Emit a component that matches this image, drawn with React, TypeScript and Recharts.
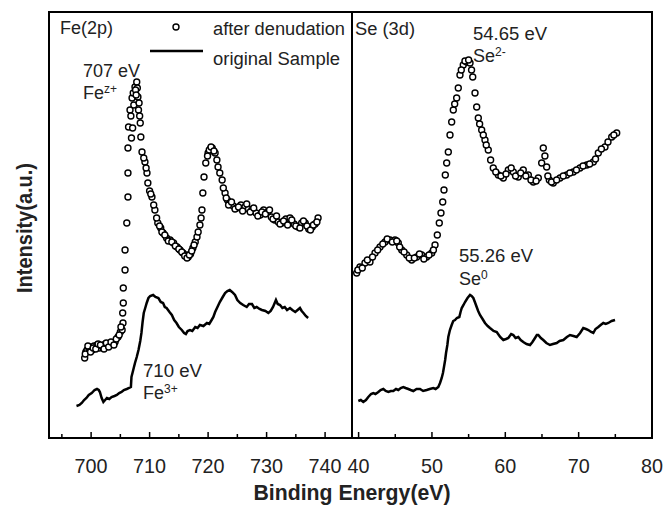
import React from "react";
import { ComposedChart, Line, Scatter, XAxis, YAxis } from "recharts";

// Fe(2p) region, binding energy (eV) and intensity (a.u.)
const feAfterEnergy = [
  698.9, 699.1, 699.3, 699.6, 699.8, 700.2, 700.5, 701.0, 701.4, 701.8,
  702.0, 702.4, 702.8, 703.2, 703.6, 704.1, 704.6, 705.0, 705.3, 705.45,
  705.4, 705.5, 705.5, 705.8, 705.8, 706.1, 706.3, 706.3, 706.3, 706.4,
  706.65, 707.0, 707.2, 707.5, 707.8, 707.9, 708.0, 708.1, 708.4, 708.5,
  708.7, 709.2, 709.55, 709.7, 710.0, 710.4, 710.9, 711.4, 711.9, 712.3,
  712.9, 713.5, 714.1, 714.7, 715.2, 715.7, 716.2, 716.6, 717.0, 717.4,
  717.8, 718.1, 718.6, 718.95, 719.1, 719.3, 719.6, 720.0, 720.4, 720.7,
  721.2, 721.7, 722.4, 722.9, 723.3, 723.7, 724.3, 724.9, 725.6, 726.3,
  726.9, 727.5, 728.2, 728.9, 729.5, 730.2, 730.8, 731.4, 732.0, 732.6,
  733.3, 734.0, 734.7, 735.4, 736.0, 736.6, 737.2, 737.8, 738.3, 738.8,
  699.0, 699.45, 699.9, 700.35, 700.8, 701.2, 701.6, 702.2, 702.6, 703.0,
  703.4, 703.9, 704.3, 704.8, 705.1, 706.8, 706.9, 707.1, 707.3, 707.6,
  707.7, 708.2, 708.3, 709.0, 709.4, 710.2, 710.7, 711.2, 711.7, 712.1,
  712.6, 713.2, 713.8, 714.4, 715.0, 715.5, 716.0, 716.4, 716.8, 717.2,
  717.6, 718.3, 718.8, 719.9, 720.2, 720.5, 721.0, 721.5, 722.0, 722.6,
  723.1, 723.5, 724.0, 724.6, 725.2, 725.9, 726.6, 727.2, 727.8, 728.5,
  729.2, 729.8, 730.5, 731.1, 731.7, 732.3, 732.9, 733.6, 734.3, 735.0,
  735.7, 736.3, 736.9, 737.5, 738.0, 738.6,
];
const feAfterIntensity = [
  80, 86, 88, 90, 91, 88, 92, 93, 90, 92,
  91, 94, 92, 93, 95, 96, 101, 106, 108, 115,
  125, 135, 150, 168, 188, 215, 241, 265, 290, 311,
  328, 340, 345, 351, 356, 350, 341, 328, 315, 301,
  286, 276, 265, 255, 247, 241, 228, 215, 210, 205,
  200, 198, 195, 191, 188, 185, 183, 181, 184, 190,
  196, 201, 213, 228, 245, 261, 275, 285, 289, 290,
  285, 271, 258, 245, 238, 235, 232, 230, 233, 231,
  229, 228, 225, 223, 228, 226, 221, 218, 216, 215,
  219, 220, 214, 211, 215, 215, 209, 211, 214, 220,
  84, 92, 86, 90, 89, 94, 93, 89, 95, 91,
  96, 93, 99, 103, 111, 322, 300, 310, 333, 348,
  343, 335, 322, 280, 270, 244, 233, 220, 212, 206,
  203, 197, 196, 192, 189, 186, 182, 180, 183, 187,
  193, 206, 220, 282, 288, 291, 287, 278, 265, 250,
  240, 233, 236, 229, 231, 227, 234, 226, 230, 222,
  226, 224, 228, 219, 222, 214, 217, 213, 218, 212,
  210, 217, 212, 208, 213, 216,
];
const feOrigEnergy = [
  697.5, 698.0, 698.4, 698.8, 699.2, 699.6, 700.1, 700.6, 701.0, 701.3,
  701.5, 701.8, 702.1, 702.4, 702.7, 703.1, 703.5, 704.0, 704.4, 704.8,
  705.2, 705.6, 706.1, 706.5, 706.8, 706.9, 707.2, 707.5, 707.8, 708.1,
  708.4, 708.6, 708.8, 709.0, 709.3, 709.5, 709.8, 710.1, 710.6, 711.0,
  711.5, 711.9, 712.3, 712.6, 712.9, 713.4, 713.8, 714.2, 714.6, 715.0,
  715.5, 715.9, 716.2, 716.5, 716.9, 717.3, 717.8, 718.2, 718.6, 719.2,
  719.8, 720.2, 720.6, 720.9, 721.2, 721.6, 722.0, 722.5, 722.9, 723.3,
  723.7, 724.1, 724.6, 725.0, 725.5, 726.0, 726.6, 727.0, 727.5, 727.9,
  728.3, 728.8, 729.2, 729.8, 730.3, 730.7, 731.1, 731.6, 731.9, 732.3,
  732.7, 733.1, 733.5, 734.0, 734.4, 734.9, 735.3, 735.7, 736.0, 736.3,
  736.7, 737.1,
];
const feOrigIntensity = [
  32, 33, 35, 38, 40, 43, 45, 48, 49, 48,
  46, 40, 36, 38, 40, 39, 41, 42, 43, 45,
  46, 48, 49, 50, 51, 61, 68, 75, 81, 88,
  97, 105, 116, 125, 131, 135, 140, 142, 143, 141,
  140, 136, 135, 131, 130, 126, 123, 118, 115, 111,
  108, 105, 104, 107, 108, 107, 111, 110, 113, 112,
  115, 114, 118, 121, 126, 131, 136, 141, 145, 147,
  148, 146, 143, 138, 135, 133, 131, 134, 134, 130,
  131, 129, 128, 127, 125, 127, 131, 138, 134, 133,
  130, 131, 128, 130, 128, 126, 128, 130, 127, 125,
  122, 120,
];

// Se(3d) region
const seAfterEnergy = [
  39.74, 40.19, 40.87, 41.55, 42.24, 42.92, 43.6, 44.28, 44.96,
  45.41, 45.88, 46.56, 47.24, 47.92, 48.6, 49.28, 49.97, 50.42, 50.73,
  51.0, 51.23, 51.47, 51.64, 51.82, 52.01, 52.23, 52.46, 52.69, 52.91,
  53.37, 53.59, 53.82, 54.27, 54.74, 55.19, 55.56, 55.87, 56.1, 56.32,
  56.78, 57.23, 57.68, 58.36, 59.05, 59.73, 60.41, 61.09, 61.77, 62.45,
  63.14, 63.82, 64.5, 64.96, 65.18, 65.64, 66.0, 66.54, 67.46, 68.37,
  69.27, 70.18, 71.1, 72.0, 72.68, 73.59, 74.51, 75.19,
  39.9, 40.5, 41.2, 41.9, 42.6, 43.3, 43.9, 44.6, 45.2, 45.6,
  46.2, 46.9, 47.6, 48.3, 48.9, 49.6, 50.2, 53.1, 54.0, 54.5,
  55.0, 55.4, 56.5, 57.0, 57.4, 58.0, 58.7, 59.4, 60.1, 60.8,
  61.4, 62.1, 62.8, 63.5, 64.2, 65.4, 65.8, 66.3, 67.0, 67.9,
  68.8, 69.7, 70.6, 71.5, 72.3, 73.1, 74.0, 74.8,
];
const seAfterIntensity = [
  165, 171, 175, 176, 185, 191, 196, 198, 198,
  195, 188, 183, 178, 181, 183, 181, 185, 193, 203,
  215, 225, 236, 248, 263, 275, 286, 303, 316, 328,
  340, 350, 363, 373, 376, 375, 361, 345, 331, 320,
  308, 298, 288, 270, 263, 260, 268, 266, 261, 268,
  263, 256, 260, 275, 290, 271, 258, 255, 260, 263,
  266, 270, 273, 276, 285, 291, 301, 305,
  168, 170, 178, 181, 188, 194, 199, 196, 197, 191,
  186, 180, 180, 184, 179, 183, 188, 334, 368, 377,
  378, 368, 314, 303, 293, 278, 266, 262, 264, 270,
  262, 265, 262, 258, 257, 282, 262, 256, 258, 262,
  265, 268, 272, 274, 279, 289, 296, 303,
];
const seOrigEnergy = [
  39.96, 40.3, 40.64, 41.0, 41.32, 41.7, 42.0, 42.3, 42.69, 43.0,
  43.37, 43.7, 44.05, 44.4, 44.73, 45.1, 45.41, 45.75, 46.09, 46.4,
  46.78, 47.1, 47.46, 47.9, 48.37, 48.8, 49.28, 49.7, 50.18, 50.5,
  50.87, 51.1, 51.33, 51.5, 51.64, 51.8, 51.92, 52.1, 52.23, 52.45,
  52.69, 52.9, 53.14, 53.4, 53.73, 53.9, 54.06, 54.3, 54.51, 54.85,
  55.19, 55.4, 55.64, 55.9, 56.1, 56.3, 56.55, 56.9, 57.23, 57.6,
  57.91, 58.4, 58.83, 59.3, 59.73, 60.1, 60.41, 60.8, 61.09, 61.4,
  61.77, 62.1, 62.45, 62.9, 63.37, 63.7, 64.05, 64.3, 64.5, 64.85,
  65.18, 65.6, 66.09, 66.5, 67.01, 67.4, 67.91, 68.4, 68.82, 69.3,
  69.73, 70.2, 70.63, 71.0, 71.32, 71.7, 72.0, 72.3, 72.68, 73.0,
  73.36, 73.7, 74.04, 74.5, 74.96,
];
const seOrigIntensity = [
  37, 38, 36, 38, 41, 44, 45, 44, 46, 48,
  49, 47, 46, 47, 47, 49, 48, 50, 51, 50,
  49, 48, 47, 49, 49, 47, 48, 49, 50, 49,
  51, 55, 60, 65, 71, 78, 85, 93, 101, 108,
  113, 117, 118, 120, 121, 126, 130, 133, 136, 140,
  143, 142, 140, 135, 131, 127, 123, 119, 115, 112,
  110, 107, 106, 101, 98, 99, 100, 104, 103, 100,
  101, 98, 96, 94, 93, 96, 100, 103, 103, 100,
  98, 95, 93, 94, 95, 97, 98, 101, 103, 102,
  101, 105, 110, 109, 108, 106, 105, 109, 111, 113,
  115, 114, 115, 117, 118,
];

const feTicks = [695, 700, 705, 710, 715, 720, 725, 730, 735, 740];
const seTicks = [40, 45, 50, 55, 60, 65, 70, 75, 80];

const zip = (e: number[], v: number[]) => e.map((x, i) => ({ e: x, v: v[i] }));

const FONT = "'Liberation Sans', Arial, sans-serif";
const INK = "#222";

function EnergyTick(props: any) {
  const { x, y, payload } = props;
  const val = payload.value;
  const major = val % 10 === 0;
  const label = String(val);
  return (
    <g>
      <line x1={x} x2={x} y1={y} y2={y - (major ? 6 : 4)} stroke="#000" strokeWidth={1.5} />
      {major && (
        <text
          x={x}
          y={y + 35}
          textAnchor="middle"
          fontSize={21}
          fontFamily={FONT}
          fill={INK}
          textLength={label.length * 11}
          lengthAdjust="spacingAndGlyphs"
        >
          {label}
        </text>
      )}
    </g>
  );
}

const openCircle = (p: any) => (
  <circle cx={p.cx} cy={p.cy} r={3} fill="#fff" stroke="#000" strokeWidth={1.4} />
);

function Panel(props: {
  left: number;
  width: number;
  margin: { top: number; right: number; bottom: number; left: number };
  domain: [number, number];
  ticks: number[];
  after: { e: number; v: number }[];
  orig: { e: number; v: number }[];
}) {
  return (
    <div style={{ position: "absolute", left: props.left, top: 0 }}>
      <ComposedChart width={props.width} height={505} margin={props.margin}>
        <XAxis
          dataKey="e"
          type="number"
          domain={props.domain}
          ticks={props.ticks}
          interval={0}
          height={67}
          axisLine={false}
          tickLine={false}
          tickSize={0}
          tickMargin={0}
          tick={(t: any) => <EnergyTick {...t} />}
          allowDataOverflow
        />
        <YAxis type="number" dataKey="v" domain={[0, 426]} hide />
        <Line
          data={props.orig}
          dataKey="v"
          type="linear"
          stroke="#000"
          strokeWidth={2.5}
          dot={false}
          isAnimationActive={false}
        />
        <Scatter data={props.after} dataKey="v" shape={openCircle} isAnimationActive={false} />
      </ComposedChart>
    </div>
  );
}

export default function App() {
  return (
    <div
      style={{
        position: "absolute",
        left: 0,
        top: 0,
        width: 665,
        height: 505,
        background: "#fff",
        fontFamily: FONT,
      }}
    >
      <Panel
        left={0}
        width={352}
        margin={{ top: 12, right: 0, bottom: 0, left: 49 }}
        domain={[692.8, 744.6]}
        ticks={feTicks}
        after={zip(feAfterEnergy, feAfterIntensity)}
        orig={zip(feOrigEnergy, feOrigIntensity)}
      />
      <Panel
        left={330}
        width={335}
        margin={{ top: 12, right: 13, bottom: 0, left: 22 }}
        domain={[39.1, 80]}
        ticks={seTicks}
        after={zip(seAfterEnergy, seAfterIntensity)}
        orig={zip(seOrigEnergy, seOrigIntensity)}
      />
      <svg
        width={665}
        height={505}
        style={{ position: "absolute", left: 0, top: 0, pointerEvents: "none" }}
        fontFamily={FONT}
        fill={INK}
      >
        <rect x={49} y={12} width={603} height={426} fill="none" stroke="#000" strokeWidth={2} />
        <line x1={352} x2={352} y1={12} y2={438} stroke="#000" strokeWidth={2} />

        <text x={60} y={34} fontSize={18} textLength={53} lengthAdjust="spacingAndGlyphs">Fe(2p)</text>
        <text x={355} y={35} fontSize={18} textLength={60} lengthAdjust="spacingAndGlyphs">Se (3d)</text>

        <circle cx={176} cy={27} r={3} fill="#fff" stroke="#000" strokeWidth={1.4} />
        <text x={213} y={35} fontSize={18} textLength={132} lengthAdjust="spacingAndGlyphs">after denudation</text>
        <line x1={150} x2={203} y1={51} y2={51} stroke="#000" strokeWidth={2.5} />
        <text x={213} y={65} fontSize={18} textLength={127} lengthAdjust="spacingAndGlyphs">original Sample</text>

        <text x={83} y={77} fontSize={18} textLength={57} lengthAdjust="spacingAndGlyphs">707 eV</text>
        <text x={83} y={99} fontSize={18}>
          Fe<tspan dy={-6} fontSize={12}>z+</tspan>
        </text>

        <text x={473} y={40} fontSize={18} textLength={74} lengthAdjust="spacingAndGlyphs">54.65 eV</text>
        <text x={473} y={62} fontSize={18}>
          Se<tspan dy={-6} fontSize={12}>2-</tspan>
        </text>

        <text x={143} y={377} fontSize={18} textLength={59} lengthAdjust="spacingAndGlyphs">710 eV</text>
        <text x={143} y={399} fontSize={18}>
          Fe<tspan dy={-6} fontSize={12}>3+</tspan>
        </text>

        <text x={459} y={262} fontSize={18} textLength={74} lengthAdjust="spacingAndGlyphs">55.26 eV</text>
        <text x={459} y={285} fontSize={18}>
          Se<tspan dy={-6} fontSize={12}>0</tspan>
        </text>

        <text
          x={352}
          y={500}
          textAnchor="middle"
          fontSize={22}
          fontWeight="bold"
          textLength={197}
          lengthAdjust="spacingAndGlyphs"
        >
          Binding Energy(eV)
        </text>
        <text
          transform="translate(32,228) rotate(-90)"
          textAnchor="middle"
          fontSize={22}
          fontWeight="bold"
          textLength={130}
          lengthAdjust="spacingAndGlyphs"
        >
          Intensity(a.u.)
        </text>
      </svg>
    </div>
  );
}
